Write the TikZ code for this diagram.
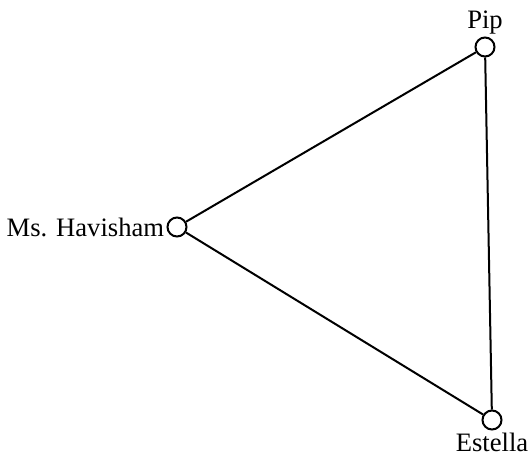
\documentclass[tikz,border=0pt]{standalone}
\usepackage{fontspec}
\setmainfont{Liberation Serif}
\usetikzlibrary{positioning}
\tikzset{
	vertex/.style={circle,draw,line width=1pt,fill=white,inner sep=0pt,minimum size=9.5pt},
	charlabel/.style={inner sep=1pt,font=\fontsize{13.3}{16}\selectfont}
}
\begin{document}
\begin{tikzpicture}[x=0.5pt,y=0.5pt]
	\useasboundingbox (0,0) rectangle (530,457);
	\node[vertex] (pip) at (485,410) {};
	\node[vertex] (havisham) at (177,230) {};
	\node[vertex] (estella) at (492,37) {};
	\draw[line width=1pt] (pip) -- (havisham) -- (estella) -- (pip);
	\node[charlabel,above=0pt of pip] (piplabel) {Pip};
	\node[charlabel,left=0pt of havisham] (havishamlabel) {Ms. Havisham};
	\node[charlabel,below=0pt of estella] (estellalabel) {Estella};
\end{tikzpicture}
\end{document}
